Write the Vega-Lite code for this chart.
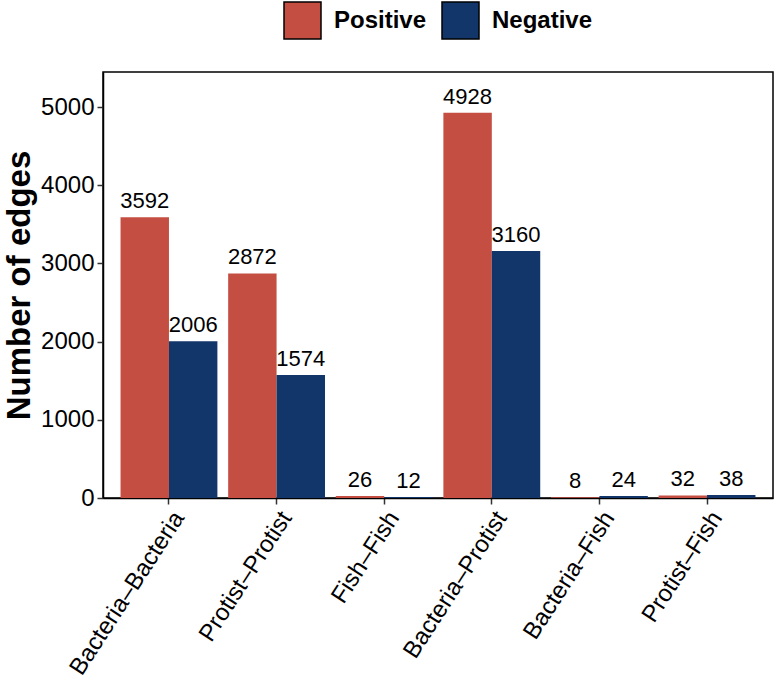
{
  "$schema": "https://vega.github.io/schema/vega-lite/v6.json",
  "width": 670,
  "height": 426,
  "autosize": {"type": "none"},
  "padding": {"left": 103, "top": 72, "right": 1, "bottom": 191},
  "background": "white",
  "config": {
    "font": "Liberation Sans",
    "view": {"stroke": "black", "strokeWidth": 1.5},
    "axis": {"grid": false, "domainColor": "black", "tickColor": "#333333", "labelColor": "black", "titleColor": "black"}
  },
  "data": {
    "values": [
      {"pair": "Bacteria–Bacteria", "type": "Positive", "n": 3592},
      {"pair": "Bacteria–Bacteria", "type": "Negative", "n": 2006},
      {"pair": "Protist–Protist", "type": "Positive", "n": 2872},
      {"pair": "Protist–Protist", "type": "Negative", "n": 1574},
      {"pair": "Fish–Fish", "type": "Positive", "n": 26},
      {"pair": "Fish–Fish", "type": "Negative", "n": 12},
      {"pair": "Bacteria–Protist", "type": "Positive", "n": 4928},
      {"pair": "Bacteria–Protist", "type": "Negative", "n": 3160},
      {"pair": "Bacteria–Fish", "type": "Positive", "n": 8},
      {"pair": "Bacteria–Fish", "type": "Negative", "n": 24},
      {"pair": "Protist–Fish", "type": "Positive", "n": 32},
      {"pair": "Protist–Fish", "type": "Negative", "n": 38}
    ]
  },
  "encoding": {
    "x": {
      "field": "pair", "type": "nominal",
      "sort": ["Bacteria–Bacteria", "Protist–Protist", "Fish–Fish", "Bacteria–Protist", "Bacteria–Fish", "Protist–Fish"],
      "scale": {"paddingInner": 0.1, "paddingOuter": 0.163},
      "axis": {"title": null, "labelAngle": -57, "labelFontSize": 24, "labelAlign": "right", "labelBaseline": "top", "labelLimit": 400, "tickSize": 6, "tickWidth": 1.5, "domainWidth": 1.5, "labelPadding": 3}
    },
    "xOffset": {"field": "type", "type": "nominal", "sort": ["Positive", "Negative"]},
    "y": {
      "field": "n", "type": "quantitative",
      "scale": {"domain": [0, 5448], "nice": false},
      "axis": {"title": "Number of edges", "titleFontSize": 33, "titleFontWeight": "bold", "labelFontSize": 24, "format": "d", "values": [0, 1000, 2000, 3000, 4000, 5000], "tickSize": 6, "tickWidth": 1.5, "domainWidth": 1.5, "titlePadding": 4, "labelPadding": 3}
    }
  },
  "layer": [
    {
      "mark": {"type": "bar"},
      "encoding": {
        "color": {
          "field": "type", "type": "nominal",
          "sort": ["Positive", "Negative"],
          "scale": {"domain": ["Positive", "Negative"], "range": ["#C44E42", "#12356A"]},
          "legend": {
            "title": null, "orient": "none", "direction": "horizontal",
            "legendX": 180, "legendY": -71,
            "symbolType": "square", "symbolSize": 1369, "symbolStrokeColor": "black", "symbolStrokeWidth": 1.5, "symbolOpacity": 1,
            "labelFontSize": 24, "labelFontWeight": "bold", "labelColor": "black", "columnPadding": 12, "labelOffset": 12
          }
        }
      }
    },
    {
      "mark": {"type": "text", "baseline": "alphabetic", "dy": -9, "fontSize": 22, "color": "black"},
      "encoding": {"text": {"field": "n", "type": "quantitative"}}
    }
  ]
}
